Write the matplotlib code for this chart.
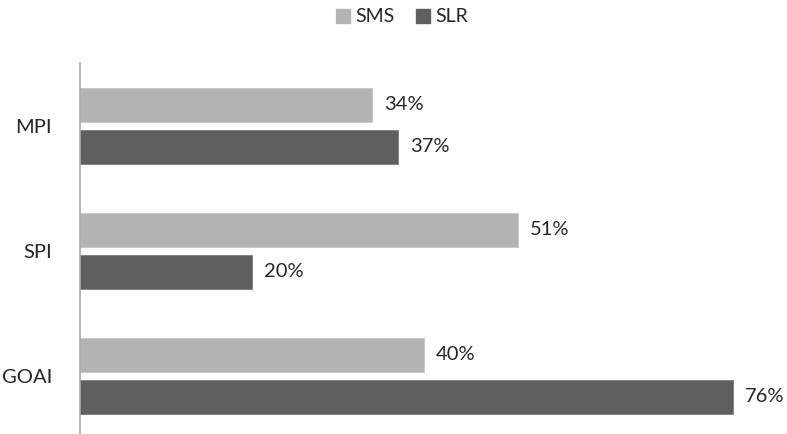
import matplotlib.pyplot as plt
from matplotlib.patches import Patch
import numpy as np

categories = ["GOAI", "SPI", "MPI"]
sms = [40, 51, 34]
slr = [76, 20, 37]
series_names = ["SMS", "SLR"]

SMS_COLOR = "#b3b3b3"
SLR_COLOR = "#5f5f5f"
TEXT_COLOR = "#262626"

plt.rcParams["font.family"] = ["Lato", "DejaVu Sans"]

fig = plt.figure(figsize=(7.87, 4.34), dpi=100)
ax = fig.add_axes([80 / 787, -4.5 / 434, 687 / 787, 375.5 / 434])

y = np.arange(len(categories))
h = 0.272
off = 0.168

b1 = ax.barh(y + off, sms, height=h, color=SMS_COLOR, edgecolor="#c8c8c8", linewidth=0.6)
b2 = ax.barh(y - off, slr, height=h, color=SLR_COLOR, edgecolor="#7a7a7a", linewidth=0.6)

for bars, vals in ((b1, sms), (b2, slr)):
    for bar, v in zip(bars, vals):
        ax.text(v + 1.4, bar.get_y() + bar.get_height() / 2, f"{v}%",
                va="center", ha="left", fontsize=14.5, color=TEXT_COLOR)

ax.set_xlim(0, 80)
ax.set_ylim(-0.5, 2.5)
ax.set_yticks(y)
ax.set_yticklabels(categories, fontsize=14.5, color=TEXT_COLOR)
ax.tick_params(axis="y", length=0, pad=20)
ax.set_xticks([])

for side in ("top", "right", "bottom"):
    ax.spines[side].set_visible(False)
ax.spines["left"].set_color("#a6a6a6")
ax.spines["left"].set_linewidth(1.2)

handles = [Patch(color=SMS_COLOR), Patch(color=SLR_COLOR)]
fig.legend(handles, series_names, loc="center", bbox_to_anchor=(0.511, 1 - 17 / 434),
           ncol=2, frameon=False, fontsize=14, handlelength=0.7, handleheight=0.7,
           handletextpad=0.3, columnspacing=1.1, labelcolor=TEXT_COLOR)

fig.savefig("out.png", dpi=100)
